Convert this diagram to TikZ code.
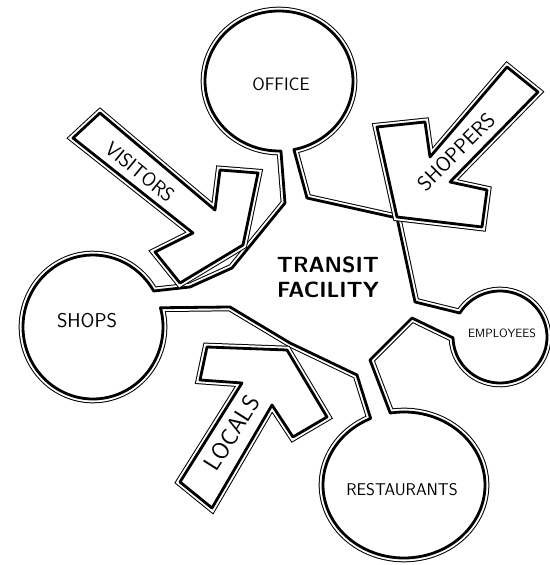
\documentclass[tikz,border=0pt]{standalone}
\usepackage{fontspec}
\usetikzlibrary{calc}
\newcommand\handsize[1]{\sffamily\fontsize{#1}{1.15\dimexpr#1pt\relax}\selectfont}

\begin{document}
\begin{tikzpicture}[x=1pt, y=1pt,
  sketch/.style={line join=round, preaction={draw, line width=8.6pt}, preaction={draw=white, line width=6.6pt}, preaction={fill=white}, draw, line width=2.8pt},
  lettering/.style={inner sep=1pt, align=center}
]
  \useasboundingbox (0,0) rectangle (549,565);
  \coordinate (officec) at (279,484);
  \coordinate (shopsc) at (93,238);
  \coordinate (empc) at (500,228);
  \coordinate (restc) at (404,80);

  % hub with its four rooms
  \path[sketch] ($(officec)+(-88.5:74 and 70)$)
    arc[start angle=-88.5, end angle=-438.4, x radius=74, y radius=70]
    -- (307,367) -- (397,347) -- (415,263)
    -- ($(empc)+(148.6:47 and 46)$)
    arc[start angle=148.6, end angle=-179, x radius=47, y radius=46]
    -- (412,247) -- (370,205)
    -- ($(restc)+(99.8:81 and 73)$)
    arc[start angle=99.8, end angle=-245.7, x radius=81, y radius=73]
    -- (357,190) -- (290,222) -- (230,258)
    -- ($(shopsc)+(15.5:70 and 72)$)
    arc[start angle=15.5, end angle=-330, x radius=70, y radius=72]
    -- (190,278) -- (232,297) -- (285,362) -- cycle;

  % arrows
  \path[sketch] (100,452) -- (215,355) -- (220,395) -- (258,392) -- (243,320)
    -- (180,282) -- (155,313) -- (193,332) -- (73,427) -- cycle;
  \path[sketch] (507,498) -- (538,473) -- (450,383) -- (487,375) -- (482,338)
    -- (397,348) -- (377,438) -- (425,443) -- (430,408) -- cycle;
  \path[sketch] (180,83) -- (212,57) -- (272,160) -- (293,128) -- (327,148)
    -- (287,215) -- (207,218) -- (200,185) -- (242,182) -- cycle;

  \node[lettering, font=\handsize{18}] (office) at (281,481) {OFFICE};
  \node[lettering, font=\handsize{20}] (shops) at (87,244) {SHOPS};
  \node[lettering, font=\handsize{12}] (employees) at (502,232) {EMPLOYEES};
  \node[lettering, font=\handsize{17}] (restaurants) at (402,75) {RESTAURANTS};
  \node[lettering, font=\handsize{22}\bfseries] (hub) at (328,288) {TRANSIT\\FACILITY};
  \node[lettering, font=\handsize{20}, rotate=-39.5] (visitors) at (140,393) {VISITORS};
  \node[lettering, font=\handsize{21}, rotate=45] (shoppers) at (456,413) {SHOPPERS};
  \node[lettering, font=\handsize{24}, rotate=57.7] (locals) at (232,132) {LOCALS};
\end{tikzpicture}
\end{document}
